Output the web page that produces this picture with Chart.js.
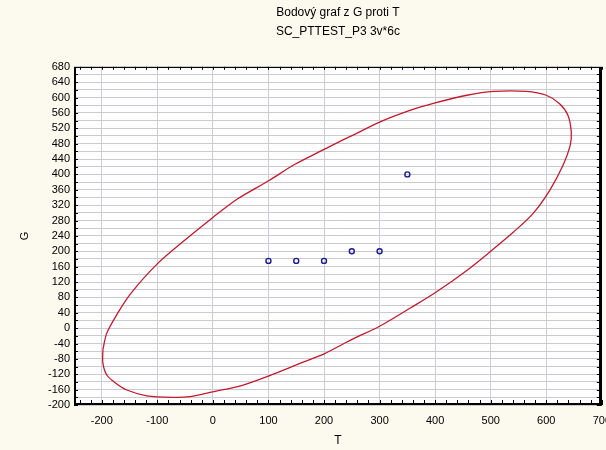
<!DOCTYPE html>
<html><head><meta charset="utf-8">
<script src="https://cdn.jsdelivr.net/npm/chart.js@4"></script>
<style>
html,body{margin:0;padding:0;background:#fcf9ee;overflow:hidden;width:606px;height:450px;}
canvas{display:block;}
</style></head><body>
<canvas id="c" width="620" height="450"></canvas>
<script>
const chartTitle = 'Bodový graf z G proti T';
const chartSubtitle = 'SC_PTTEST_P3 3v*6c';
const xAxisTitle = 'T';
const yAxisTitle = 'G';

const pointsT = [100, 150, 200, 250, 300, 350];
const pointsG = [175, 175, 175, 200, 200, 400];

const ellipseT = [-198,-191,-173,-149,-101,-47,0,44,101,146,200,237,255,300,356,400,457,505,564,600,624,639,645,643,630,606,576,541,500,457,400,356,300,255,236,200,158,101,50,2,-41,-71,-119,-155,-176,-191,-198,-198];
const ellipseG = [-56,-13,35,88,166,233,288,336,384,425,465,492,504,536,567,586,606,616,616,606,584,554,510,475,423,358,298,250,200,150,92,53,5,-26,-40,-67,-91,-124,-150,-165,-178,-180,-176,-161,-142,-122,-91,-56];

const xTickValues = [-200,-100,0,100,200,300,400,500,600,700];
const yTickValues = [680,640,600,560,520,480,440,400,360,320,280,240,200,160,120,80,40,0,-40,-80,-120,-160,-200];

const FONT = "'Liberation Sans', Arial, sans-serif";

const plotFrame = {
  id: 'plotFrame',
  beforeDraw(chart) {
    const {ctx, chartArea: a} = chart;
    ctx.save();
    ctx.fillStyle = '#ffffff';
    ctx.fillRect(a.left, a.top, a.width, a.height);
    ctx.restore();
  },
  afterDraw(chart) {
    const {ctx, chartArea: a, scales: {x, y}} = chart;
    ctx.save();
    ctx.strokeStyle = '#000';
    ctx.lineWidth = 1;
    ctx.beginPath();
    for (let v = Math.ceil(x.min / 20) * 20; v <= x.max; v += 20) {
      const px = Math.round(x.getPixelForValue(v)) + 0.5;
      ctx.moveTo(px, a.bottom); ctx.lineTo(px, a.bottom - 5);
      ctx.moveTo(px, a.top); ctx.lineTo(px, a.top + 3);
    }
    for (let v = Math.ceil(y.min / 20) * 20; v <= y.max; v += 20) {
      const py = Math.round(y.getPixelForValue(v)) + 0.5;
      ctx.moveTo(a.left, py); ctx.lineTo(a.left + 4, py);
      ctx.moveTo(a.right, py); ctx.lineTo(a.right - 5, py);
    }
    ctx.stroke();
    ctx.strokeRect(Math.round(a.left) + 0.5, Math.round(a.top) + 0.5, Math.round(a.width) - 1, Math.round(a.height) - 1);
    ctx.fillStyle = '#000';
    ctx.fillRect(Math.round(a.left), Math.round(a.top), 2, Math.round(a.height));
    ctx.fillRect(Math.round(a.left), Math.round(a.bottom) - 2, Math.round(a.width), 2);
    ctx.fillRect(Math.round(a.right) - 3, Math.round(a.top), 3, Math.round(a.height));
    ctx.restore();
  }
};

new Chart(document.getElementById('c'), {
  type: 'scatter',
  data: {
    datasets: [
      {
        label: 'ellipse',
        data: ellipseT.map((t, i) => ({x: t, y: ellipseG[i]})),
        showLine: true,
        borderColor: '#c21a2c',
        borderWidth: 1.3,
        pointRadius: 0,
        tension: 0.3,
        fill: false
      },
      {
        label: 'G vs T',
        data: pointsT.map((t, i) => ({x: t, y: pointsG[i]})),
        showLine: false,
        pointStyle: 'circle',
        pointRadius: 2.5,
        borderColor: '#1c1c8a',
        backgroundColor: 'rgba(255,255,255,0)',
        borderWidth: 1.4
      }
    ]
  },
  options: {
    responsive: false,
    animation: false,
    layout: {padding: {left: 14, right: 0, top: 0, bottom: 0}},
    plugins: {
      legend: {display: false},
      tooltip: {enabled: false},
      title: {
        display: true, text: chartTitle, fullSize: false, color: '#000',
        font: {family: FONT, size: 12, weight: 'normal'},
        padding: {top: 5, bottom: 2}
      },
      subtitle: {
        display: true, text: chartSubtitle, fullSize: false, color: '#000',
        font: {family: FONT, size: 12, weight: 'normal'},
        padding: {top: 3, bottom: 28}
      }
    },
    scales: {
      x: {
        type: 'linear', min: -250, max: 700,
        afterBuildTicks: s => { s.ticks = xTickValues.map(v => ({value: v})); },
        afterFit: s => { s.height = 45; },
        border: {display: false},
        grid: {color: '#cdcdd6', lineWidth: 1, drawTicks: false},
        ticks: {
          autoSkip: false, maxRotation: 0, color: '#000', padding: 9,
          font: {family: FONT, size: 11},
          callback: v => String(v)
        },
        title: {display: true, text: xAxisTitle, color: '#000', font: {family: FONT, size: 12}, padding: {top: 4, bottom: 2}}
      },
      y: {
        type: 'linear', min: -200, max: 680,
        afterFit: s => { s.width = 60; },
        border: {display: false},
        grid: {color: '#c9cad3', lineWidth: 1, drawTicks: false},
        ticks: {
          stepSize: 20, autoSkip: false, color: '#000', padding: 4,
          font: {family: FONT, size: 11},
          callback: v => (yTickValues.includes(v) ? String(v) : '')
        },
        title: {display: true, text: yAxisTitle, color: '#000', font: {family: FONT, size: 11}, padding: {top: 4, bottom: 4}}
      }
    }
  },
  plugins: [plotFrame]
});
</script>
</body></html>
